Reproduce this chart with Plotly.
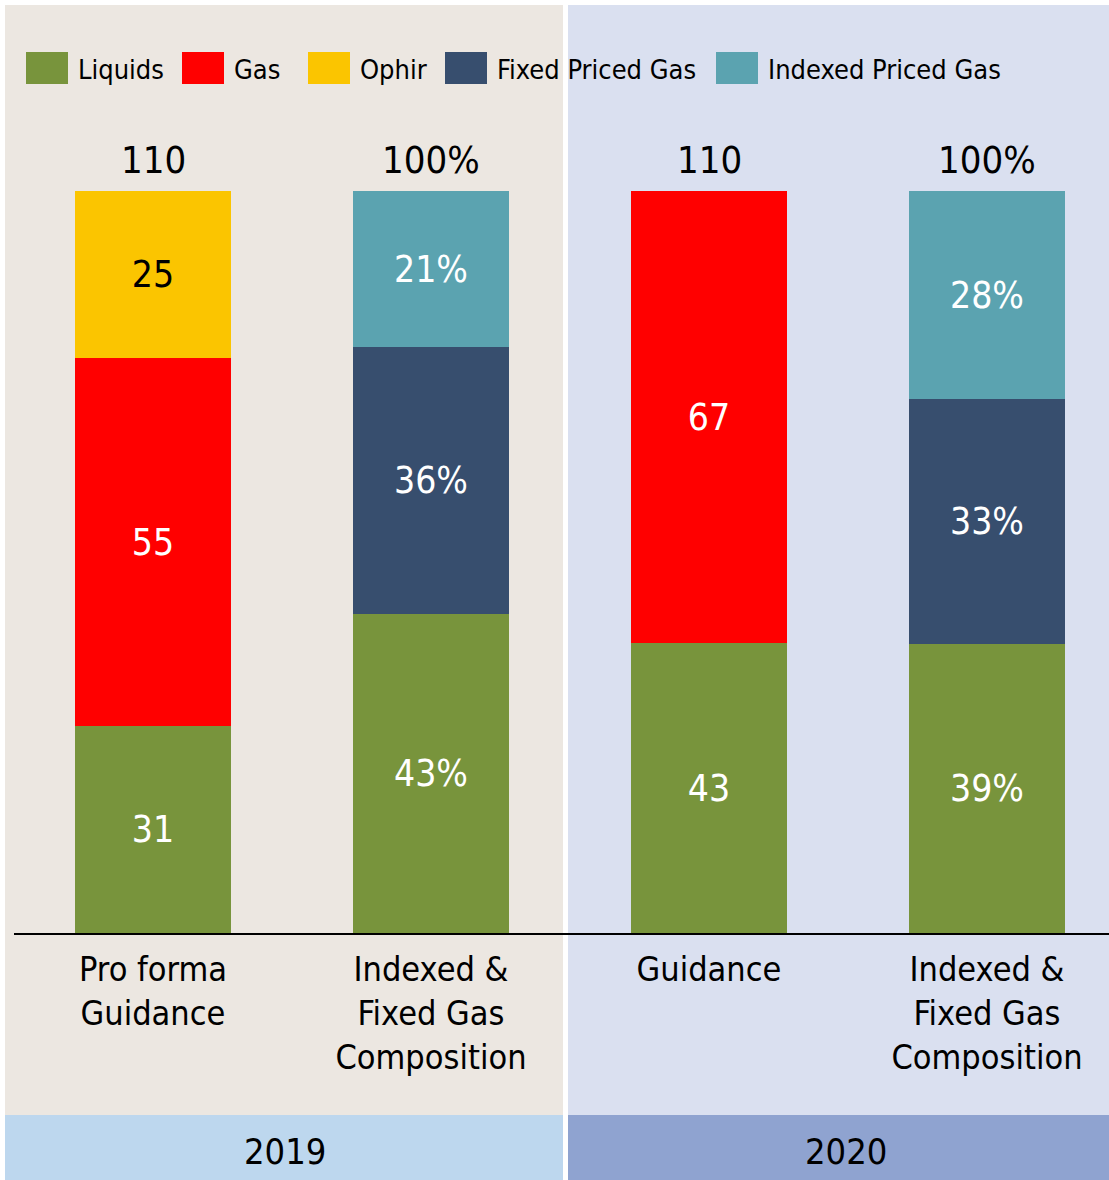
import plotly.graph_objects as go

# ---------------- data ----------------
categories = ["Pro forma<br>Guidance", "Indexed &<br>Fixed Gas<br>Composition",
              "Guidance", "Indexed &<br>Fixed Gas<br>Composition"]
units = ["", "%", "", "%"]
total_labels = ["110", "100%", "110", "100%"]
years = ["2019", "2020"]

series_names = ["Liquids", "Gas", "Ophir", "Fixed Priced Gas", "Indexed Priced Gas"]
liquids = [31, 43, 43, 39]
gas = [55, None, 67, None]
ophir = [25, None, None, None]
fixed_gas = [None, 36, None, 33]
indexed_gas = [None, 21, None, 28]

# ---------------- styles ----------------
FONT = "Liberation Sans Narrow, DejaVu Sans Condensed, Roboto Condensed, Arial Narrow, Roboto, sans-serif"
colors = ["#78943C", "#FF0000", "#FBC500", "#374E6E", "#5BA3B0"]
text_colors = ["white", "white", "black", "white", "white"]

W, H = 1109, 1180
ML, MT, MB = 14, 0, 247
PW, PH = W - ML, H - MT - MB


def px_x(p):
    return (p - ML) / PW


def px_y(p):
    return (H - MB - p) / PH


all_series = [liquids, gas, ophir, fixed_gas, indexed_gas]
xs = list(range(len(categories)))
totals = [sum(s[i] or 0 for s in all_series) for i in xs]

fig = go.Figure()
for name, vals, col, tcol in zip(series_names, all_series, colors, text_colors):
    heights = [None if v is None else v / totals[i] * 100 for i, v in enumerate(vals)]
    texts = ["" if v is None else f"{v}{units[i]}" for i, v in enumerate(vals)]
    fig.add_trace(go.Bar(
        x=xs, y=heights, name=name, marker=dict(color=col, line=dict(width=0)),
        text=texts, textposition="inside", insidetextanchor="middle",
        textangle=0, constraintext="none",
        textfont=dict(family=FONT, size=37, color=tcol),
        width=0.5576, showlegend=False, hoverinfo="name+text",
    ))

# y scale: 100 -> pixel 191, 0 -> pixel 933
px_per_unit = (933 - 191) / 100
y_top = 100 + 191 / px_per_unit

shapes = []
# panel backgrounds
shapes.append(dict(type="rect", xref="paper", yref="paper", x0=px_x(5), x1=px_x(563),
                   y0=px_y(1115), y1=px_y(5), fillcolor="#ECE7E1", line=dict(width=0), layer="below"))
shapes.append(dict(type="rect", xref="paper", yref="paper", x0=px_x(568), x1=px_x(1109),
                   y0=px_y(1115), y1=px_y(5), fillcolor="#DAE0F0", line=dict(width=0), layer="below"))
shapes.append(dict(type="rect", xref="paper", yref="paper", x0=px_x(5), x1=px_x(563),
                   y0=px_y(1180), y1=px_y(1115), fillcolor="#BDD7EE", line=dict(width=0), layer="below"))
shapes.append(dict(type="rect", xref="paper", yref="paper", x0=px_x(568), x1=px_x(1109),
                   y0=px_y(1180), y1=px_y(1115), fillcolor="#8FA3D0", line=dict(width=0), layer="below"))

annotations = []
# totals above bars
for i, t in enumerate(total_labels):
    annotations.append(dict(x=i, y=100 + 31 / px_per_unit, text=t, showarrow=False,
                            xanchor="center", yanchor="middle",
                            font=dict(family=FONT, size=38, color="black")))
# year bands
year_centers = [285, 846]
for yr, cx in zip(years, year_centers):
    annotations.append(dict(x=px_x(cx), y=px_y(1151), xref="paper", yref="paper", text=yr,
                            showarrow=False, xanchor="center", yanchor="middle",
                            font=dict(family=FONT, size=36, color="black")))

# legend (manual, large swatches)
legend_swatch_left = [26, 182, 308, 445, 716]
for name, col, lx in zip(series_names, colors, legend_swatch_left):
    shapes.append(dict(type="rect", xref="paper", yref="paper", x0=px_x(lx), x1=px_x(lx + 42),
                       y0=px_y(84), y1=px_y(52), fillcolor=col, line=dict(width=0)))
    annotations.append(dict(x=px_x(lx + 50), y=px_y(69), xref="paper", yref="paper", text=name,
                            showarrow=False, xanchor="left", yanchor="middle",
                            font=dict(family=FONT, size=27, color="black")))

fig.update_layout(
    width=W, height=H, margin=dict(l=ML, r=0, t=MT, b=MB, pad=0),
    paper_bgcolor="white", plot_bgcolor="rgba(0,0,0,0)",
    barmode="stack", bargap=0, shapes=shapes, annotations=annotations,
    font=dict(family=FONT, color="black"),
    xaxis=dict(range=[-0.5, (PW - 139) / 278], tickvals=xs, ticktext=categories,
               showgrid=False, zeroline=False, showline=True, linecolor="black", linewidth=2,
               ticks="", ticklabelstandoff=5,
               tickfont=dict(family=FONT, size=34, color="black"), fixedrange=True),
    yaxis=dict(range=[0, y_top], visible=False, showgrid=False, zeroline=False, fixedrange=True),
)

fig.write_html("out.html")
